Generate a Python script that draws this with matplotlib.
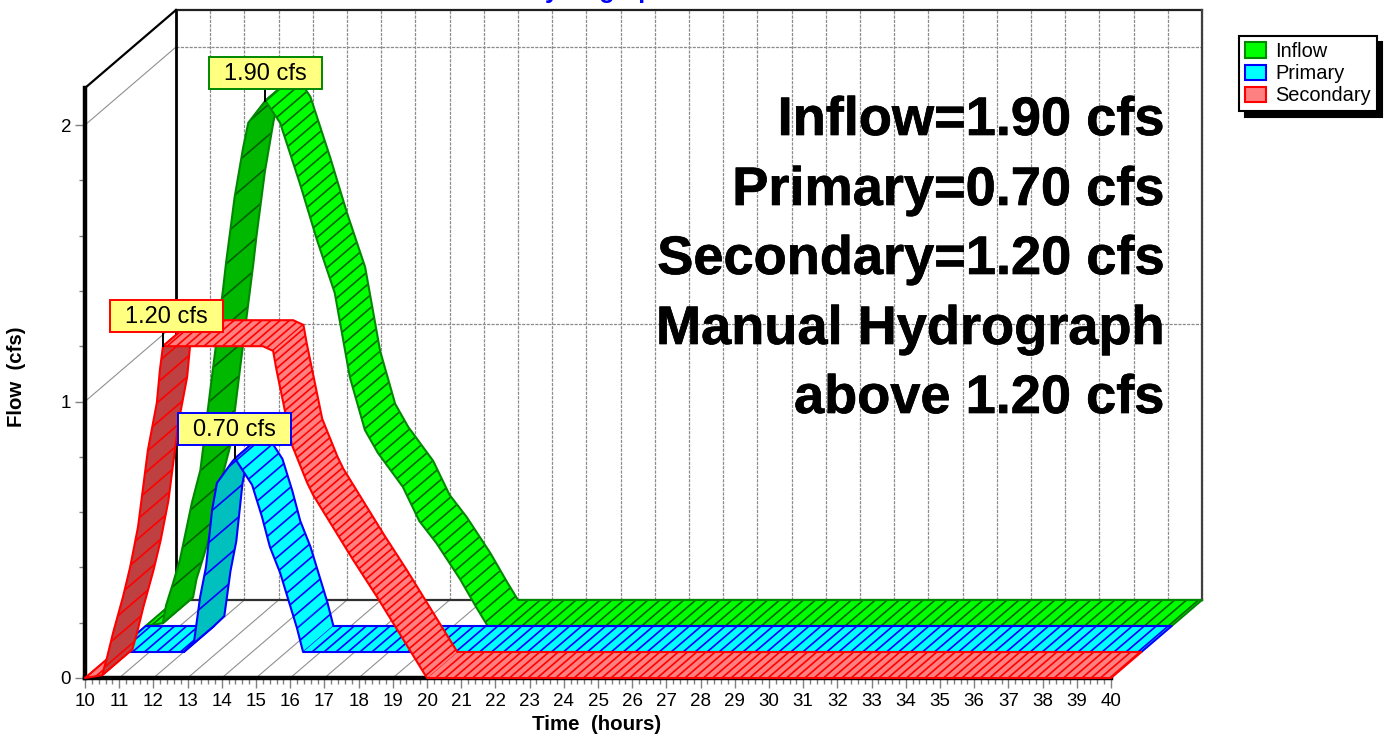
import numpy as np
import matplotlib
matplotlib.use("Agg")
import matplotlib.pyplot as plt
import matplotlib.patheffects as pe
from matplotlib.collections import LineCollection
from matplotlib.patches import Patch, Polygon, Rectangle

plt.rcParams['font.family'] = ['Liberation Sans', 'DejaVu Sans']

# hydrographs (hours, cfs)
inflow_t = [10, 10.5, 10.6, 10.8, 11, 11.35, 11.6, 11.9, 12.26, 12.35, 12.6, 12.85, 13, 13.5,
            13.93, 14.51, 15.01, 15.53, 15.97, 16.41, 16.79, 17.52, 18, 18.5, 19.19, 19.68, 20, 40]
inflow_q = [0, 0.01, 0.076, 0.155, 0.239, 0.445, 0.564, 0.864, 1.215, 1.313, 1.55, 1.73, 1.82, 1.9,
            1.82, 1.6, 1.396, 1.204, 0.9, 0.709, 0.626, 0.503, 0.38, 0.3, 0.17, 0.065, 0, 0]
primary_t = [10, 12, 12.3, 12.48, 12.65, 12.83, 12.97, 13.41, 13.5,
             14, 14.29, 14.52, 14.82, 15.31, 15.49, 40]
primary_q = [0, 0, 0.036, 0.199, 0.307, 0.514, 0.611, 0.687, 0.7,
             0.604, 0.488, 0.38, 0.286, 0.087, 0, 0]
secondary_t = [10, 10.5, 10.64, 10.82, 11.11, 11.32, 11.55, 11.84, 12.1, 12.19, 12.28,
               15.2, 15.5, 15.6, 16.05, 16.5, 16.67, 17.84, 18.54, 20, 40]
secondary_q = [0, 0.01, 0.072, 0.163, 0.293, 0.401, 0.546, 0.825, 0.995, 1.114, 1.2,
               1.2, 1.183, 1.114, 0.843, 0.705, 0.662, 0.427, 0.293, 0, 0]
series_names = ['Inflow', 'Primary', 'Secondary']
peak_labels = ['1.90 cfs', '0.70 cfs', '1.20 cfs']
big_lines = ['Inflow=1.90 cfs', 'Primary=0.70 cfs', 'Secondary=1.20 cfs',
             'Manual Hydrograph', 'above 1.20 cfs']

W, H = 1390, 735
DX = 91 / 34.2   # depth of the box in hours
DY = 78 / 276.5  # and in cfs
GREEN = '#008800'


def fx(px):
    return px / W


def fy(py):
    return 1 - py / H


def proj(t, q, d):
    return np.asarray(t) + d * DX, np.asarray(q) + d * DY


fig = plt.figure(figsize=(13.9, 7.35), dpi=100)
top_q = 590 / 276.5
ax = fig.add_axes([fx(85), fy(678), 1026 / W, 590 / H])
ax.set_xlim(10, 40)
ax.set_ylim(0, top_q)

# axes
ax.spines['top'].set_visible(False)
ax.spines['right'].set_visible(False)
ax.spines['left'].set_linewidth(3.2)
ax.spines['bottom'].set_linewidth(3.2)
ax.set_xticks(range(10, 41))
ax.set_xticks(np.arange(10, 40.01, 0.2), minor=True)
ax.set_yticks([0, 1, 2])
ax.set_yticks(np.arange(0, 2.01, 0.2), minor=True)
ax.tick_params(which='major', length=7, width=1, color='#808080', labelsize=13.5)
ax.tick_params(axis='x', which='major', pad=4)
ax.tick_params(axis='y', which='major', pad=3)
ax.tick_params(which='minor', length=4, width=1, color='#808080')
ax.patch.set_visible(False)

# back wall, floor and side wall
grid_style = dict(color='#8c8c8c', lw=0.9, ls=(0, (2.5, 1)), clip_on=False, zorder=1)
for t in range(10, 41):
    x, y = proj([t, t], [0, top_q], 1)
    ax.plot(x, y, **grid_style)
    x, y = proj([t, t], [0, 0], np.array([0, 1]))
    if t < 40:
        ax.plot(x, y, color='#909090', lw=0.8, clip_on=False, zorder=1)
for q in [1, 2]:
    x, y = proj([10, 40], [q, q], 1)
    ax.plot(x, y, **grid_style)
    x, y = proj([10, 10], [q, q], np.array([0, 1]))
    ax.plot(x, y, color='#909090', lw=0.8, clip_on=False, zorder=1)
x, y = proj([10, 10, 40, 40, 10], [0, top_q, top_q, 0, 0], 1)
ax.plot(x[:2], y[:2], color='k', lw=2, clip_on=False, zorder=2)
ax.plot(x[1:3], y[1:3], color='#202020', lw=1.6, clip_on=False, zorder=2)
ax.plot(x[2:4], y[2:4], color='#404040', lw=1.6, clip_on=False, zorder=2)
ax.plot(x[3:5], y[3:5], color='#303030', lw=1.6, clip_on=False, zorder=2)
x, y = proj([10, 10], [top_q, top_q], np.array([0, 1]))
ax.plot(x, y, color='k', lw=1.6, clip_on=False, zorder=2)


def hatch(poly, spacing, color, zorder):
    # lines running along the depth of the box, clipped to the face
    k = DX / DY
    c = poly[:, 0] - poly[:, 1] * k
    start = np.floor(c.min() / spacing) * spacing
    offsets = np.arange(start, c.max() + spacing, spacing)
    q0, q1 = -0.2, 2.6
    segs = [[(o + q0 * k, q0), (o + q1 * k, q1)] for o in offsets]
    patch = Polygon(poly, closed=True, transform=ax.transData)
    lines = LineCollection(segs, colors=color, linewidths=1.2, zorder=zorder)
    ax.add_collection(lines, autolim=False)
    lines.set_clip_box(fig.bbox)
    lines.set_clip_path(patch)


def face(t, q, d0):
    ft, fq = proj(t, q, d0)
    bt, bq = proj(t, q, d0 + 1 / 3)
    return np.column_stack([np.r_[ft, bt[::-1]], np.r_[fq, bq[::-1]]])


def ribbon(t, q, d0, fill, dark, edge, hatch_light, hatch_dark, step_flat, step_fall, step_dark, z):
    t = np.array(t, float)
    q = np.array(q, float)
    slope = (np.diff(q) * 276.5) / (np.diff(t) * 34.2)
    is_dark = slope > 78 / 91 * 1.1
    i = 0
    n = 0
    while i < len(t) - 1:
        j = i
        while j + 1 < len(t) - 1 and is_dark[j + 1] == is_dark[i]:
            j += 1
        poly = face(t[i:j + 2], q[i:j + 2], d0)
        zz = z + n * 0.01
        ax.add_patch(Polygon(poly, closed=True, facecolor=dark if is_dark[i] else fill,
                             edgecolor='none', clip_on=False, zorder=zz))
        if is_dark[i]:
            hatch(poly, step_dark, hatch_dark, zz + 0.001)
        else:
            # falling limb is hatched wider than the flat parts
            for k in range(i, j + 1):
                step = step_fall if slope[k] < -0.5 else step_flat
                hatch(face(t[k:k + 2], q[k:k + 2], d0), step, hatch_light, zz + 0.001)
        ax.add_patch(Polygon(poly, closed=True, facecolor='none', edgecolor=edge, lw=1.5,
                             joinstyle='round', clip_on=False, zorder=zz + 0.002))
        n += 1
        i = j + 1


ribbon(inflow_t, inflow_q, 2 / 3, '#00FF00', '#00B800', GREEN, '#006800', '#006000', 0.35, 0.44, 1.05, 3)
ribbon(primary_t, primary_q, 1 / 3, '#00FFFF', '#00BFBF', '#0000FF', '#0000FF', '#0000FF', 0.35, 0.5, 1.0, 4)
ribbon(secondary_t, secondary_q, 0, '#FF8080', '#BF4040', '#FF0000', '#FF0000', '#FF0000', 0.27, 0.28, 0.68, 5)

# big notes
baselines = [135, 205, 274, 344, 413]
for line, py in zip(big_lines, baselines):
    fig.text(fx(1164), fy(py), line, ha='right', va='baseline', fontsize=39, fontweight='bold',
             color='k', zorder=4,
             path_effects=[pe.withStroke(linewidth=0.5, foreground='k')])

# peak labels with their leaders
series = [(inflow_t, inflow_q, 2 / 3, GREEN, 209, 57),
          (primary_t, primary_q, 1 / 3, '#0000FF', 178, 413),
          (secondary_t, secondary_q, 0, '#FF0000', 110, 300)]
for (t, q, d, col, left, top), lab in zip(series, peak_labels):
    i = int(np.argmax(q))
    x, y = proj(t[i], q[i], d)
    ax.plot([x, x], [y, y + 0.05], color='k', lw=1.4, clip_on=False, zorder=8)
    fig.add_artist(Rectangle((fx(left), fy(top + 32)), 113 / W, 32 / H, transform=fig.transFigure,
                             facecolor='#FFFF80', edgecolor=col, lw=1.4, zorder=6))
    fig.text(fx(left + 56.5), fy(top + 16.5), lab, ha='center', va='center', fontsize=17,
             color='k', zorder=7)

# labels and the clipped title
fig.text(fx(597), fy(724), 'Time  (hours)', ha='center', va='center', fontsize=14.8, fontweight='bold')
fig.text(fx(17), fy(377), 'Flow  (cfs)', ha='center', va='center', rotation=90, fontsize=14.7,
         fontweight='bold')
fig.text(fx(598), fy(-2), 'Hydrograph', ha='center', va='baseline', fontsize=18, fontweight='bold',
         color='#0000FF')

handles = [Patch(facecolor='#00FF00', edgecolor=GREEN, lw=1.5),
           Patch(facecolor='#00FFFF', edgecolor='#0000FF', lw=1.5),
           Patch(facecolor='#FF8080', edgecolor='#FF0000', lw=1.5)]
leg = fig.legend(handles, series_names, loc='upper left', bbox_to_anchor=(fx(1239), fy(36)),
                 borderaxespad=0, fancybox=False, framealpha=1, edgecolor='k', fontsize=14.4,
                 handlelength=1.05, handleheight=0.8, handletextpad=0.45, labelspacing=0.16,
                 borderpad=0.3, shadow={'color': 'k', 'alpha': 1, 'ox': 4, 'oy': -4})
leg.get_frame().set_linewidth(1.5)

fig.savefig('out.png', dpi=100)
